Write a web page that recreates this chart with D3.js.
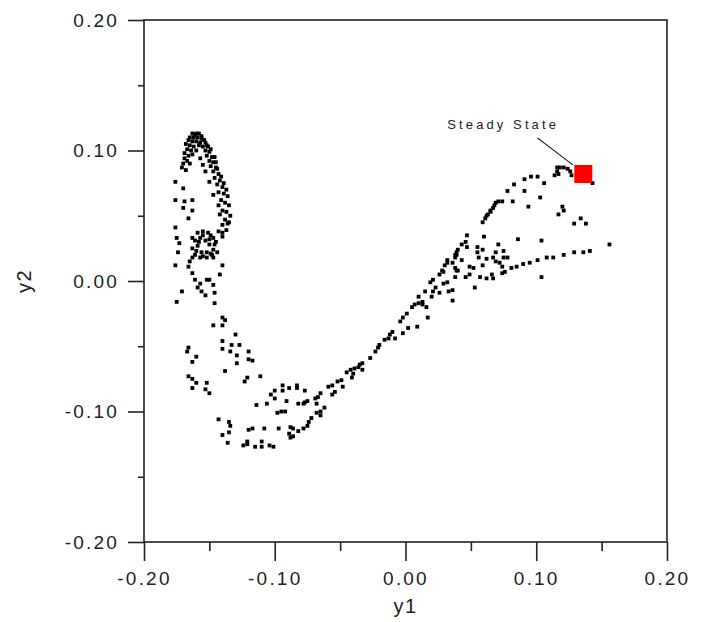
<!DOCTYPE html>
<html>
<head>
<meta charset="utf-8">
<script src="https://cdn.jsdelivr.net/npm/d3@7"></script>
<style>
body { margin: 0; background: #fff; }
svg text { font-family: "Liberation Sans", Arial, sans-serif; fill: #222; }
</style>
</head>
<body>
<script>
// tick values
const xTicks = [-0.2, -0.1, 0, 0.1, 0.2];
const xMinor = [-0.15, -0.05, 0.05, 0.15];
const yTicks = [-0.2, -0.1, 0, 0.1, 0.2];
const yMinor = [-0.15, -0.05, 0.05, 0.15];

// [y1, y2] points
const loopPoints = [[-0.163,0.113],[-0.160,0.113],[-0.158,0.113],[-0.156,0.111],[-0.165,0.110],[-0.162,0.110],[-0.159,0.110],[-0.156,0.109],[-0.154,0.108],[-0.166,0.108],[-0.163,0.107],[-0.160,0.107],[-0.157,0.106],[-0.153,0.106],[-0.168,0.105],[-0.165,0.104],[-0.162,0.103],[-0.155,0.103],[-0.151,0.103],[-0.167,0.101],[-0.160,0.100],[-0.153,0.100],[-0.150,0.099],[-0.169,0.098],[-0.163,0.097],[-0.152,0.096],[-0.148,0.095],[-0.169,0.094],[-0.157,0.094],[-0.150,0.092],[-0.147,0.091],[-0.170,0.090],[-0.155,0.089],[-0.149,0.088],[-0.145,0.087],[-0.171,0.087],[-0.147,0.084],[-0.143,0.082],[-0.153,0.084],[-0.146,0.079],[-0.142,0.077],[-0.150,0.076],[-0.144,0.074],[-0.140,0.072],[-0.143,0.068],[-0.139,0.067],[-0.147,0.066],[-0.141,0.062],[-0.138,0.060],[-0.143,0.058],[-0.140,0.054],[-0.137,0.053],[-0.142,0.051],[-0.138,0.047],[-0.136,0.044],[-0.140,0.043],[-0.137,0.039],[-0.143,0.038],[-0.140,0.034],
  [-0.141,0.080],[-0.139,0.075],[-0.137,0.070],[-0.136,0.065],[-0.135,0.058],[-0.134,0.050],[-0.135,0.045],[-0.161,0.112],[-0.152,0.104],[-0.149,0.101],[-0.146,0.095],[-0.145,0.091],[-0.144,0.086],[-0.166,0.096],[-0.167,0.092],[-0.168,0.085],[-0.165,0.090],[-0.158,0.104],[-0.164,0.100],
  [-0.176,0.076],[-0.170,0.071],[-0.176,0.062],[-0.169,0.061],[-0.163,0.062],[-0.170,0.056],[-0.163,0.054],[-0.166,0.048],[-0.176,0.041],[-0.175,0.033],[-0.173,0.029],[-0.174,0.022],[-0.176,0.012],[-0.171,-0.008],[-0.175,-0.016]];

const ringPoints = [[-0.159,0.037],[-0.155,0.038],[-0.151,0.037],[-0.147,0.033],[-0.146,0.028],[-0.144,0.022],[-0.147,0.018],[-0.152,0.018],[-0.157,0.018],[-0.161,0.020],[-0.163,0.025],[-0.161,0.031],[-0.157,0.033],[-0.153,0.031],[-0.150,0.028],[-0.152,0.022],[-0.156,0.022],[-0.163,0.018],[-0.163,0.033],[-0.149,0.035],[-0.147,0.024],[-0.159,0.027],
  [-0.155,0.035],[-0.150,0.032],[-0.149,0.021],[-0.155,0.019],[-0.160,0.023],[-0.158,0.030],[-0.145,0.030],[-0.148,0.020],
  [-0.140,0.037],[-0.140,0.012],[-0.142,0.005],[-0.146,-0.009],
  [-0.166,0.011],[-0.163,0.006],[-0.161,0.001],[-0.159,-0.005],[-0.156,-0.008],[-0.153,-0.011],[-0.157,-0.002],[-0.152,0.001],[-0.150,0.001],[-0.147,-0.003],[-0.165,0.015]];

const troughPoints = [[-0.146,-0.017],[-0.140,-0.028],[-0.138,-0.030],[-0.147,-0.034],[-0.140,-0.034],[-0.130,-0.041],[-0.140,-0.046],[-0.133,-0.049],[-0.127,-0.049],[-0.140,-0.052],[-0.134,-0.054],[-0.129,-0.057],[-0.120,-0.054],[-0.166,-0.051],[-0.167,-0.054],[-0.163,-0.062],[-0.160,-0.058],[-0.129,-0.063],[-0.120,-0.060],[-0.117,-0.061],[-0.138,-0.069],[-0.121,-0.074],[-0.123,-0.077],[-0.111,-0.073],[-0.166,-0.073],[-0.163,-0.075],[-0.160,-0.078],[-0.152,-0.078],[-0.163,-0.082],[-0.153,-0.083],[-0.150,-0.086],
  [-0.094,-0.080],[-0.089,-0.082],[-0.083,-0.080],[-0.083,-0.082],[-0.077,-0.084],[-0.100,-0.084],[-0.103,-0.087],[-0.094,-0.084],[-0.100,-0.090],[-0.091,-0.092],[-0.114,-0.095],[-0.106,-0.094],[-0.082,-0.094],[-0.078,-0.094],[-0.075,-0.092],[-0.069,-0.090],[-0.067,-0.089],[-0.068,-0.094],[-0.098,-0.101],[-0.095,-0.100],[-0.092,-0.100],[-0.068,-0.101],[-0.072,-0.105],[-0.074,-0.108],[-0.075,-0.111],[-0.078,-0.113],[-0.082,-0.115],[-0.086,-0.113],[-0.088,-0.112],[-0.089,-0.117],[-0.088,-0.120],[-0.086,-0.119],[-0.097,-0.113],[-0.108,-0.113],[-0.117,-0.113],[-0.120,-0.114],[-0.143,-0.106],[-0.135,-0.108],[-0.134,-0.111],[-0.135,-0.116],[-0.140,-0.118],[-0.136,-0.124],[-0.124,-0.126],[-0.121,-0.125],[-0.121,-0.123],[-0.115,-0.127],[-0.110,-0.123],[-0.110,-0.127],[-0.104,-0.126],[-0.101,-0.127],[-0.065,-0.100],[-0.065,-0.103]];

const risePoints = [[-0.077,-0.093],[-0.065,-0.086],[-0.062,-0.097],[-0.059,-0.081],[-0.056,-0.080],[-0.056,-0.087],[-0.054,-0.085],[-0.052,-0.077],[-0.049,-0.076],[-0.048,-0.081],[-0.045,-0.070],[-0.042,-0.068],[-0.041,-0.074],[-0.040,-0.071],[-0.039,-0.067],[-0.036,-0.066],[-0.035,-0.064],[-0.033,-0.068],[-0.033,-0.063],[-0.027,-0.059],[-0.023,-0.054],[-0.021,-0.051],[-0.020,-0.049],[-0.016,-0.045],[-0.013,-0.044],[-0.012,-0.041],[-0.010,-0.039],[-0.008,-0.044],[-0.002,-0.040],[0.002,-0.036],[0.009,-0.035],[-0.004,-0.031],[-0.002,-0.028],[0.001,-0.025],[0.005,-0.020],[0.007,-0.018],[0.010,-0.017],[0.013,-0.016],[0.013,-0.018],[0.016,-0.020],[0.017,-0.028],[0.010,-0.012],[0.015,-0.008],[0.020,-0.012],[0.021,-0.008],[0.019,-0.001],[0.021,0.001],[0.023,-0.005],[0.026,-0.009],[0.029,-0.002],[0.026,0.005],[0.029,0.007],[0.032,-0.001],[0.033,-0.008],[0.036,-0.015],[0.032,0.014],[0.038,0.020],[0.039,0.008],[0.038,0.003],[0.039,0.022]];

const upperBranch = [[0.116,0.087],[0.118,0.087],[0.121,0.087],[0.124,0.086],[0.126,0.084],[0.116,0.084],[0.114,0.081],[0.117,0.082],[0.127,0.081],[0.143,0.075],[0.101,0.080],[0.096,0.080],[0.091,0.078],[0.106,0.075],[0.083,0.074],[0.091,0.069],[0.078,0.069],[0.103,0.064],[0.082,0.061],[0.074,0.061],[0.071,0.061],[0.069,0.060],[0.068,0.058],[0.067,0.056],[0.065,0.054],[0.065,0.053],[0.063,0.051],[0.062,0.050],[0.061,0.048],[0.059,0.045],[0.094,0.057],[0.120,0.057],[0.121,0.054],[0.117,0.051],[0.134,0.048],[0.129,0.044],[0.138,0.044]];

const lowerBranch = [[0.156,0.028],[0.141,0.023],[0.136,0.022],[0.129,0.022],[0.121,0.020],[0.113,0.018],[0.108,0.018],[0.101,0.016],[0.095,0.014],[0.090,0.013],[0.085,0.011],[0.081,0.010],[0.076,0.007],[0.074,0.006],[0.104,0.003],[0.086,0.032],[0.104,0.031],[0.060,0.034],[0.071,0.028],[0.075,0.023],[0.078,0.018],[0.075,0.018],[0.069,0.022],[0.067,0.018],[0.062,0.017],[0.059,0.024],[0.055,0.026],[0.055,0.022],[0.056,0.018],[0.072,0.014],[0.069,0.015],[0.074,0.011],[0.059,0.012],[0.052,0.010],[0.049,0.011],[0.047,0.026],[0.046,0.030],[0.047,0.035],[0.043,0.028],[0.040,0.024],[0.039,0.020],[0.038,0.018],[0.043,0.016],[0.036,0.014],[0.032,0.016],[0.038,0.010],[0.040,0.008],[0.030,0.012],[0.028,0.008],[0.046,0.003],[0.049,0.005],[0.057,0.003],[0.062,0.002],[0.066,0.005],[0.067,0.002],[0.053,-0.005],[0.036,-0.007]];

const steadyState = [0.136, 0.082];
const annoText = "Steady State";
const annoTextPos = [0.032, 0.1165];
const annoLine = [[0.101, 0.1096], [0.128, 0.089]];

const allPoints = [].concat(loopPoints, ringPoints, troughPoints, risePoints, upperBranch, lowerBranch);

const margin = {top: 20, left: 144, right: 39, bottom: 80};
const width = 706 - margin.left - margin.right;
const height = 622 - margin.top - margin.bottom;

const svg = d3.select("body").append("svg").attr("width", 706).attr("height", 622);
const g = svg.append("g").attr("transform", `translate(${margin.left},${margin.top})`);

const x = d3.scaleLinear().domain([-0.2, 0.2]).range([0, width]);
const y = d3.scaleLinear().domain([-0.2, 0.2]).range([height, 0]);

const fmt = d => d3.format(".2f")(d).replace("\u2212", "-");

function styleAxis(sel) {
  sel.select(".domain").remove();
  sel.selectAll("line").attr("stroke", "#222").attr("stroke-width", 1.6);
  sel.selectAll("text").attr("font-size", 19).attr("fill", "#222")
    .style("font-family", '"Liberation Sans", Arial, sans-serif').style("letter-spacing", "2.2px");
}

g.append("g").attr("transform", `translate(0,${height})`)
  .call(d3.axisBottom(x).tickValues(xTicks).tickSize(19).tickSizeOuter(0).tickPadding(11).tickFormat(fmt))
  .call(styleAxis);
g.append("g").attr("transform", `translate(0,${height})`)
  .call(d3.axisBottom(x).tickValues(xMinor).tickSize(9).tickSizeOuter(0).tickFormat(""))
  .call(styleAxis);
g.append("g")
  .call(d3.axisLeft(y).tickValues(yTicks).tickSize(16).tickSizeOuter(0).tickPadding(9).tickFormat(fmt))
  .call(styleAxis);
g.append("g")
  .call(d3.axisLeft(y).tickValues(yMinor).tickSize(6).tickSizeOuter(0).tickFormat(""))
  .call(styleAxis);

g.append("rect").attr("width", width).attr("height", height)
  .attr("fill", "none").attr("stroke", "#222").attr("stroke-width", 1.6);

// points
const s = 3.8;
g.selectAll("rect.pt").data(allPoints).enter().append("rect")
  .attr("class", "pt")
  .attr("x", d => x(d[0]) - s / 2)
  .attr("y", d => y(d[1]) - s / 2)
  .attr("width", s).attr("height", s)
  .attr("fill", "#000");

// annotation
g.append("line")
  .attr("x1", x(annoLine[0][0])).attr("y1", y(annoLine[0][1]))
  .attr("x2", x(annoLine[1][0])).attr("y2", y(annoLine[1][1]))
  .attr("stroke", "#222").attr("stroke-width", 1.1);
g.append("text")
  .attr("x", x(annoTextPos[0])).attr("y", y(annoTextPos[1]))
  .attr("font-size", 13).style("letter-spacing", "3.1px")
  .text(annoText);
g.append("rect")
  .attr("x", x(steadyState[0]) - 9).attr("y", y(steadyState[1]) - 9)
  .attr("width", 18).attr("height", 18)
  .attr("fill", "#ff0000");

// axis titles
svg.append("text")
  .attr("x", margin.left + width / 2).attr("y", 613)
  .attr("text-anchor", "middle").attr("font-size", 20).style("letter-spacing", "1.5px")
  .text("y1");
svg.append("text")
  .attr("transform", `translate(31,${margin.top + height / 2}) rotate(-90)`)
  .attr("text-anchor", "middle").attr("font-size", 20).style("letter-spacing", "1.5px")
  .text("y2");
</script>
</body>
</html>
